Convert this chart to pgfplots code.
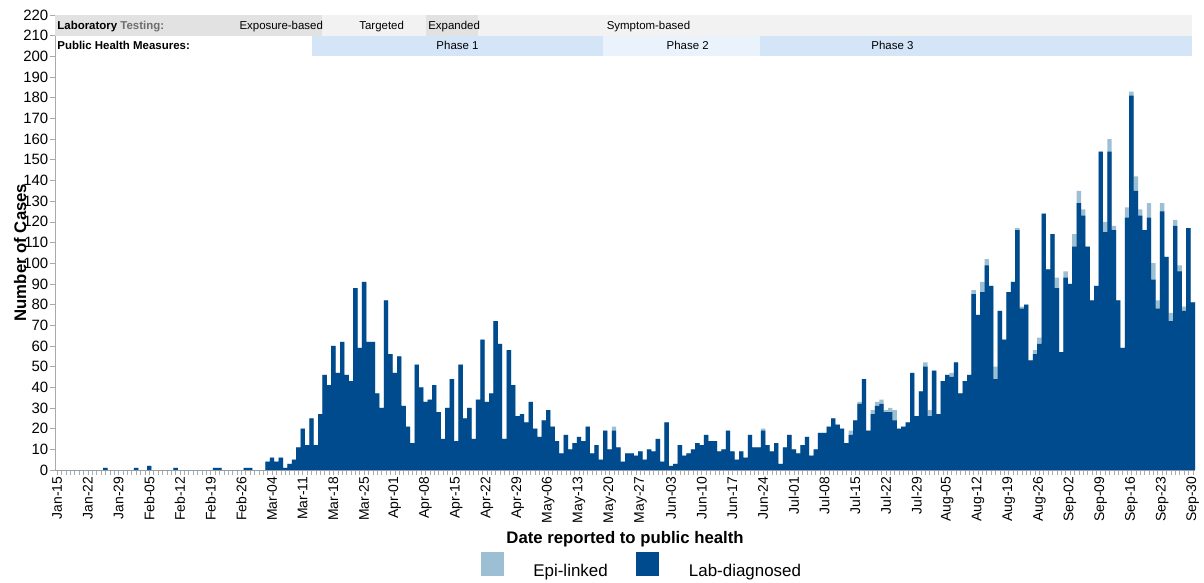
\documentclass[border=0pt]{standalone}
\usepackage{fontspec}
\setmainfont{Liberation Sans}
\usepackage{pgfplots}
\pgfplotsset{compat=1.18}
\usepackage{pgfplotstable}
\definecolor{labblue}{RGB}{0,75,141}
\definecolor{epiblue}{RGB}{156,191,211}
\definecolor{axgray}{RGB}{170,170,170}
\definecolor{bandA}{RGB}{226,226,226}
\definecolor{bandB}{RGB}{242,242,242}
\definecolor{phaseA}{RGB}{212,229,248}
\definecolor{phaseB}{RGB}{234,243,252}
\definecolor{txtgray}{RGB}{110,110,110}

\pgfplotstableread[row sep=\\]{
d lab epi\\
0 0 0\\ 1 0 0\\ 2 0 0\\ 3 0 0\\ 4 0 0\\ 5 0 0\\ 6 0 0\\ 7 0 0\\ 8 0 0\\ 9 0 0\\
10 0 0\\ 11 1 0\\ 12 0 0\\ 13 0 0\\ 14 0 0\\ 15 0 0\\ 16 0 0\\ 17 0 0\\ 18 1 0\\ 19 0 0\\
20 0 0\\ 21 2 0\\ 22 0 0\\ 23 0 0\\ 24 0 0\\ 25 0 0\\ 26 0 0\\ 27 1 0\\ 28 0 0\\ 29 0 0\\
30 0 0\\ 31 0 0\\ 32 0 0\\ 33 0 0\\ 34 0 0\\ 35 0 0\\ 36 1 0\\ 37 1 0\\ 38 0 0\\ 39 0 0\\
40 0 0\\ 41 0 0\\ 42 0 0\\ 43 1 0\\ 44 1 0\\ 45 0 0\\ 46 0 0\\ 47 0 0\\ 48 4 0\\ 49 6 0\\
50 4 0\\ 51 6 0\\ 52 1 0\\ 53 3 0\\ 54 5 0\\ 55 11 0\\ 56 20 0\\ 57 12 0\\ 58 25 0\\ 59 12 0\\
60 27 0\\ 61 46 0\\ 62 41 0\\ 63 60 0\\ 64 47 0\\ 65 62 0\\ 66 46 0\\ 67 43 0\\ 68 88 0\\ 69 59 0\\
70 91 0\\ 71 62 0\\ 72 62 0\\ 73 37 0\\ 74 30 0\\ 75 82 0\\ 76 56 0\\ 77 47 0\\ 78 55 0\\ 79 31 0\\
80 21 0\\ 81 13 0\\ 82 51 0\\ 83 40 0\\ 84 33 0\\ 85 34 0\\ 86 41 0\\ 87 28 0\\ 88 15 0\\ 89 30 0\\
90 44 0\\ 91 14 0\\ 92 51 0\\ 93 25 0\\ 94 30 0\\ 95 15 0\\ 96 34 0\\ 97 63 0\\ 98 33 0\\ 99 37 0\\
100 72 0\\ 101 61 0\\ 102 15 0\\ 103 58 0\\ 104 41 0\\ 105 26 0\\ 106 27 0\\ 107 23 0\\ 108 33 0\\ 109 20 0\\
110 16 0\\ 111 24 0\\ 112 29 0\\ 113 21 0\\ 114 14 0\\ 115 8 0\\ 116 17 0\\ 117 10 0\\ 118 13 0\\ 119 16 0\\
120 14 0\\ 121 21 0\\ 122 8 0\\ 123 12 0\\ 124 5 0\\ 125 19 0\\ 126 10 0\\ 127 19 2\\ 128 11 0\\ 129 4 0\\
130 8 0\\ 131 8 0\\ 132 7 0\\ 133 9 0\\ 134 5 0\\ 135 10 0\\ 136 9 0\\ 137 15 0\\ 138 4 0\\ 139 23 0\\
140 2 0\\ 141 3 0\\ 142 12 0\\ 143 7 0\\ 144 8 0\\ 145 10 0\\ 146 13 0\\ 147 12 0\\ 148 17 0\\ 149 14 0\\
150 14 0\\ 151 9 0\\ 152 10 0\\ 153 19 0\\ 154 9 0\\ 155 5 0\\ 156 9 0\\ 157 6 0\\ 158 17 0\\ 159 11 0\\
160 11 0\\ 161 19 1\\ 162 12 0\\ 163 9 0\\ 164 13 0\\ 165 3 0\\ 166 11 0\\ 167 17 0\\ 168 10 0\\ 169 8 0\\
170 12 0\\ 171 16 0\\ 172 7 0\\ 173 10 0\\ 174 18 0\\ 175 18 0\\ 176 21 0\\ 177 25 0\\ 178 22 0\\ 179 20 0\\
180 13 0\\ 181 17 2\\ 182 24 0\\ 183 32 1\\ 184 44 0\\ 185 19 0\\ 186 27 2\\ 187 31 2\\ 188 32 2\\ 189 28 1\\
190 28 2\\ 191 24 5\\ 192 20 0\\ 193 21 0\\ 194 23 0\\ 195 47 0\\ 196 26 0\\ 197 38 0\\ 198 50 2\\ 199 26 3\\
200 48 0\\ 201 27 0\\ 202 43 0\\ 203 46 0\\ 204 45 2\\ 205 52 0\\ 206 37 0\\ 207 43 0\\ 208 46 0\\ 209 85 2\\
210 75 0\\ 211 86 5\\ 212 99 3\\ 213 89 0\\ 214 44 6\\ 215 77 0\\ 216 63 0\\ 217 86 0\\ 218 91 0\\ 219 116 1\\
220 78 1\\ 221 80 0\\ 222 53 0\\ 223 56 2\\ 224 61 3\\ 225 124 0\\ 226 97 0\\ 227 114 0\\ 228 88 5\\ 229 57 0\\
230 93 3\\ 231 90 0\\ 232 108 6\\ 233 129 6\\ 234 123 3\\ 235 108 0\\ 236 82 0\\ 237 89 0\\ 238 154 0\\ 239 115 5\\
240 154 6\\ 241 116 2\\ 242 82 0\\ 243 59 0\\ 244 122 5\\ 245 181 2\\ 246 135 7\\ 247 123 3\\ 248 116 0\\ 249 122 7\\
250 92 8\\ 251 78 4\\ 252 125 4\\ 253 103 0\\ 254 72 4\\ 255 118 3\\ 256 96 3\\ 257 77 2\\ 258 117 0\\ 259 81 0\\
}\casedata

\begin{document}
\begin{tikzpicture}
\begin{axis}[
  name=ax, scale only axis, width=1140bp, height=455bp,
  xmin=-0.5, xmax=259.5, ymin=0, ymax=220, enlargelimits=false,
  ybar, bar width=1, bar shift=0pt,
  axis lines=left, axis line style={-, draw=axgray, line width=0.8bp},
  xtick={0,7,...,259},
  xticklabels={Jan-15,Jan-22,Jan-29,Feb-05,Feb-12,Feb-19,Feb-26,Mar-04,Mar-11,Mar-18,Mar-25,Apr-01,Apr-08,Apr-15,Apr-22,Apr-29,May-06,May-13,May-20,May-27,Jun-03,Jun-10,Jun-17,Jun-24,Jul-01,Jul-08,Jul-15,Jul-22,Jul-29,Aug-05,Aug-12,Aug-19,Aug-26,Sep-02,Sep-09,Sep-16,Sep-23,Sep-30},
  minor xtick={0,1,...,259},
  ytick={0,10,...,220},
  tick align=outside,
  major tick length=5bp, minor tick length=5bp,
  tick style={axgray, line width=0.6bp},
  xticklabel style={rotate=90, anchor=east, font=\fontsize{14}{14}\selectfont, inner sep=1.5bp},
  yticklabel style={font=\fontsize{15}{15}\selectfont, inner sep=1.5bp},
  /pgf/number format/assume math mode=true,
  xlabel={Date reported to public health},
  xlabel style={font=\bfseries\fontsize{16.8}{17}\selectfont, at={(axis description cs:0.5,-0.1611)}, anchor=base},
  ylabel={Number of Cases},
  ylabel style={font=\bfseries\fontsize{16.8}{17}\selectfont, at={(axis description cs:-0.0254,0.478)}, anchor=base, rotate=0},
  legend columns=2,
  legend style={draw=none, fill=none, inner sep=0pt, outer sep=0pt,
    at={(axis description cs:0.3734,-0.1802)}, anchor=north west,
    column sep=0pt,
    /tikz/every odd column/.append style={column sep=29.7bp},
    /tikz/every even column/.append style={column sep=28.5bp},
    nodes={inner sep=0pt},
    font=\fontsize{17}{17}\selectfont},
  legend cell align=left,
]
% header bands
\fill[bandA] (axis cs:-0.5,210) rectangle (axis cs:60.3,220);
\fill[bandB] (axis cs:60.3,210) rectangle (axis cs:84.0,220);
\fill[bandA] (axis cs:84.0,210) rectangle (axis cs:96.0,220);
\fill[bandB] (axis cs:96.0,210) rectangle (axis cs:258.8,220);
\fill[phaseA] (axis cs:58.0,200) rectangle (axis cs:124.4,209.8);
\fill[phaseB] (axis cs:124.4,200) rectangle (axis cs:160.3,209.8);
\fill[phaseA] (axis cs:160.3,200) rectangle (axis cs:258.8,209.8);
\begin{scope}[every node/.style={font=\fontsize{11.5}{12}\selectfont, inner sep=0pt}]
\node[anchor=base west] at (axis cs:0,213.1) {\textbf{Laboratory} \textcolor{txtgray}{\textbf{Testing:}}};
\node[anchor=base] at (axis cs:51.1,213.1) {Exposure-based};
\node[anchor=base] at (axis cs:74,213.1) {Targeted};
\node[anchor=base west] at (axis cs:84.6,213.1) {Expanded};
\node[anchor=base west] at (axis cs:125.3,213.1) {Symptom-based};
\node[anchor=base west] at (axis cs:0,203.1) {\textbf{Public Health Measures:}};
\node[anchor=base] at (axis cs:91.3,203.1) {Phase 1};
\node[anchor=base] at (axis cs:143.8,203.1) {Phase 2};
\node[anchor=base] at (axis cs:190.5,203.1) {Phase 3};
\end{scope}

% total (lab + epi) drawn in light colour, lab-diagnosed drawn over it
\addplot[fill=epiblue, draw=none,
  legend image code/.code={\fill[epiblue] (0bp,-4.4bp) rectangle (23bp,19.6bp);}]
  table[x=d, y expr=\thisrow{lab}+\thisrow{epi}] {\casedata};
\addlegendentry{Epi-linked}
\addplot[fill=labblue, draw=none,
  legend image code/.code={\fill[labblue] (0bp,-4.4bp) rectangle (23bp,19.6bp);}]
  table[x=d, y=lab] {\casedata};
\addlegendentry{Lab-diagnosed}
\end{axis}
\pgfresetboundingbox
\path ([xshift=-55bp,yshift=-112bp]ax.south west) rectangle ([xshift=9bp,yshift=15bp]ax.north east);
\end{tikzpicture}
\end{document}
